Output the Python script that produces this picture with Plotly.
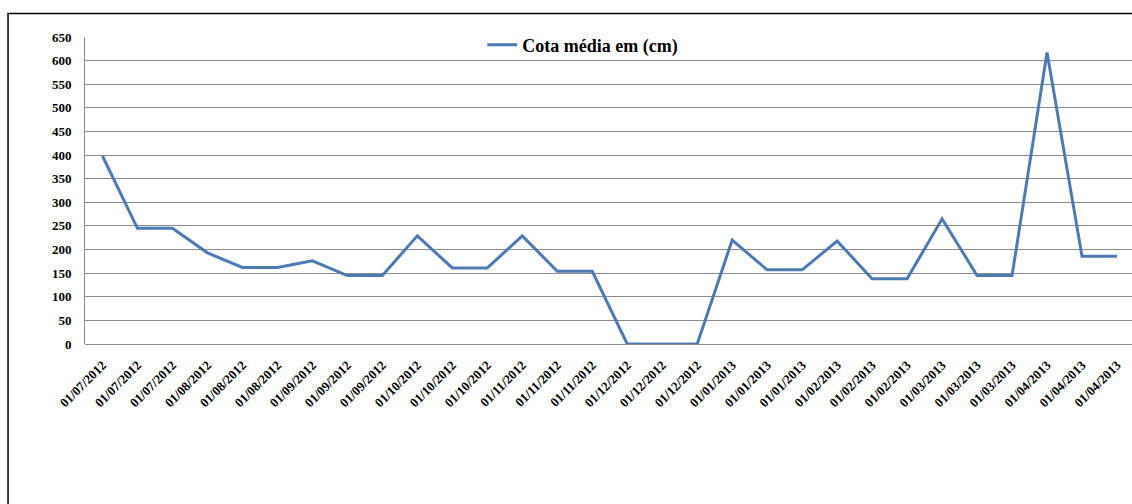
import plotly.graph_objects as go

# Dates of each reading (dd/mm/yyyy), three readings per month
datas = [
    "01/07/2012", "01/07/2012", "01/07/2012",
    "01/08/2012", "01/08/2012", "01/08/2012",
    "01/09/2012", "01/09/2012", "01/09/2012",
    "01/10/2012", "01/10/2012", "01/10/2012",
    "01/11/2012", "01/11/2012", "01/11/2012",
    "01/12/2012", "01/12/2012", "01/12/2012",
    "01/01/2013", "01/01/2013", "01/01/2013",
    "01/02/2013", "01/02/2013", "01/02/2013",
    "01/03/2013", "01/03/2013", "01/03/2013",
    "01/04/2013", "01/04/2013", "01/04/2013",
]

# Average water level in cm
cota_media = [
    398, 245, 245,
    193, 162, 162,
    176, 145, 145,
    229, 161, 161,
    229, 154, 154,
    0, 0, 0,
    220, 157, 157,
    218, 138, 138,
    265, 145, 145,
    617, 186, 186,
]

y_ticks = list(range(0, 651, 50))

W, H = 1132, 504
L, R, T, B = 84.5, 0, 37, 160
plot_w = W - L - R
plot_h = H - T - B

idx = list(range(len(datas)))
step = 35.0
x_lo = -0.5
x_hi = x_lo + plot_w / step

fig = go.Figure()
fig.add_trace(go.Scatter(
    x=idx, y=cota_media, mode="lines",
    name="Cota média em (cm)",
    line=dict(color="#4e7ab3", width=3),
))

serif = "Liberation Serif, Times New Roman, serif"

fig.update_layout(
    width=W, height=H,
    margin=dict(l=L, r=R, t=T, b=B, pad=0),
    paper_bgcolor="white", plot_bgcolor="white",
    showlegend=True,
    legend=dict(
        x=0.4754, y=0.974, xanchor="center", yanchor="middle",
        orientation="h", bgcolor="rgba(0,0,0,0)",
        font=dict(family=serif, size=18, color="black", weight="bold"),
        itemwidth=30,
    ),
    xaxis=dict(
        range=[x_lo, x_hi], tickmode="array", tickvals=idx, ticktext=datas,
        tickangle=-45, showgrid=False, zeroline=False,
        showline=False, ticks="", automargin=False,
        ticklabelstandoff=10,
        tickfont=dict(family=serif, size=13, color="black", weight="bold"),
    ),
    yaxis=dict(
        range=[0, 650], tickmode="array", tickvals=y_ticks,
        showgrid=True, gridcolor="#8a8a8a", gridwidth=1,
        zeroline=True, zerolinecolor="#8a8a8a", zerolinewidth=1,
        showline=True, linecolor="#8a8a8a", linewidth=1,
        ticks="", ticklabelstandoff=10, automargin=False,
        tickfont=dict(family=serif, size=13, color="black", weight="bold"),
    ),
)

# Outer frame around the chart (left and top edges visible)
def px_to_paper_x(px):
    return (px - L) / plot_w

def px_to_paper_y(py):
    return (H - B - py) / plot_h

fig.add_shape(
    type="rect", xref="paper", yref="paper",
    x0=px_to_paper_x(7.5), x1=px_to_paper_x(1150),
    y0=px_to_paper_y(530), y1=px_to_paper_y(13.5),
    line=dict(color="black", width=1.5), fillcolor="rgba(0,0,0,0)",
    layer="above",
)

fig.write_html("out.html")
